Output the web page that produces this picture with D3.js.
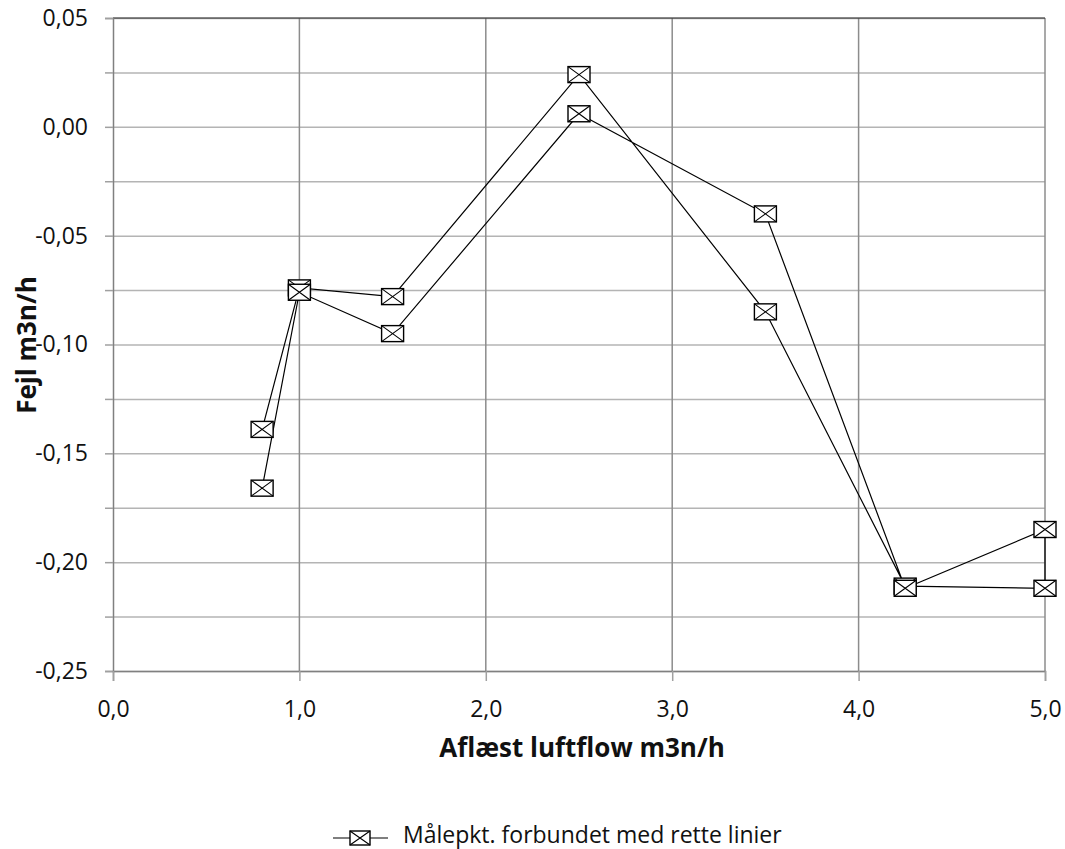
<!DOCTYPE html>
<html>
<head>
<meta charset="utf-8">
<script src="https://cdn.jsdelivr.net/npm/d3@7"></script>
<style>
  html, body { margin: 0; padding: 0; background: #fff; }
  svg { display: block; font-family: "Open Sans", "Noto Sans", sans-serif; }
</style>
</head>
<body>
<svg id="chart" width="1065" height="849"></svg>
<script>
// Data: one measurement path (out along upper branch, back along lower branch)
const flow  = [0.8, 1.0, 1.5, 2.5, 3.5, 4.25, 5.0, 5.0, 4.25, 3.5, 2.5, 1.5, 1.0, 0.8];
const error = [-0.139, -0.074, -0.078, 0.024, -0.085, -0.211, -0.212, -0.185, -0.212, -0.040, 0.006, -0.095, -0.076, -0.166];
const xTicks = [0, 1, 2, 3, 4, 5];
const yTicks = [-0.25, -0.20, -0.15, -0.10, -0.05, 0.00, 0.05];
const yGrid = [-0.225, -0.175, -0.125, -0.075, -0.025, 0.025];
const xTitle = "Aflæst luftflow m3n/h";
const yTitle = "Fejl m3n/h";
const legendLabel = "Målepkt. forbundet med rette linier";

const points = flow.map((f, i) => ({ x: f, y: error[i] }));

const svg = d3.select("#chart");
const L = 113, R = 1045, T = 18, B = 671;

const x = d3.scaleLinear().domain([0, 5]).range([L, R]);
const y = d3.scaleLinear().domain([-0.25, 0.05]).range([B, T]);

// horizontal grid (all 0.025 steps)
const g = svg.append("g");
g.selectAll("line.hg").data(yGrid.concat(yTicks)).join("line")
  .attr("x1", L).attr("x2", R)
  .attr("y1", d => y(d) + 0.5).attr("y2", d => y(d) + 0.5)
  .attr("stroke", "#b4b4b4").attr("stroke-width", 1.5);
// vertical grid
g.selectAll("line.vg").data(xTicks.slice(1)).join("line")
  .attr("x1", d => x(d)).attr("x2", d => x(d))
  .attr("y1", T).attr("y2", B)
  .attr("stroke", "#8c8c8c").attr("stroke-width", 1.5);

// top border
svg.append("line").attr("x1", L).attr("x2", R).attr("y1", T).attr("y2", T)
  .attr("stroke", "#222").attr("stroke-width", 1.2);

// y axis
const yAxis = d3.axisLeft(y).tickValues(yTicks.concat(yGrid)).tickSize(8)
  .tickFormat(d => yTicks.includes(d) ? d3.format(".2f")(d).replace(".", ",").replace("−", "-") : "");
const ya = svg.append("g").attr("transform", `translate(${L},0)`).call(yAxis);
ya.select(".domain").attr("stroke", "#808080").attr("stroke-width", 1.5);
ya.selectAll(".tick line").attr("stroke", "#a0a0a0").attr("stroke-width", 1.5);
ya.selectAll(".tick text").attr("x", -25).attr("font-size", 23).attr("fill", "#111")
  .attr("font-family", "Open Sans");

// x axis
const xAxis = d3.axisBottom(x).tickValues(xTicks).tickSize(10)
  .tickFormat(d => d3.format(".1f")(d).replace(".", ","));
const xa = svg.append("g").attr("transform", `translate(0,${B})`).call(xAxis);
xa.select(".domain").attr("stroke", "#808080").attr("stroke-width", 1.5);
xa.selectAll(".tick line").attr("stroke", "#a0a0a0").attr("stroke-width", 1.5);
xa.selectAll(".tick text").attr("y", 30).attr("font-size", 23).attr("fill", "#111")
  .attr("font-family", "Open Sans");

// axis titles
svg.append("text").attr("x", 582).attr("y", 757).attr("text-anchor", "middle")
  .attr("font-size", 26).attr("font-weight", "bold").attr("fill", "#111").text(xTitle);
svg.append("text").attr("transform", `translate(36,345) rotate(-90)`)
  .attr("text-anchor", "middle").attr("font-size", 26).attr("font-weight", "bold")
  .attr("fill", "#111").text(yTitle);

// data line
const line = d3.line().x(d => x(d.x)).y(d => y(d.y));
svg.append("path").datum(points).attr("d", line)
  .attr("fill", "none").attr("stroke", "#000").attr("stroke-width", 1.2);

// markers
function marker(sel, w, h) {
  sel.append("rect").attr("x", -w / 2).attr("y", -h / 2).attr("width", w).attr("height", h)
    .attr("fill", "#fff").attr("stroke", "#000").attr("stroke-width", 1.4);
  sel.append("path").attr("d", `M${-w/2},${-h/2}L${w/2},${h/2}M${-w/2},${h/2}L${w/2},${-h/2}`)
    .attr("stroke", "#000").attr("stroke-width", 1.1);
}
svg.append("g").selectAll("g").data(points).join("g")
  .attr("transform", d => `translate(${x(d.x)},${y(d.y)})`)
  .each(function () { marker(d3.select(this), 22, 16); });

// legend
const lg = svg.append("g").attr("transform", "translate(0,838)");
lg.append("line").attr("x1", 333).attr("x2", 388).attr("y1", 0).attr("y2", 0)
  .attr("stroke", "#000").attr("stroke-width", 1.2);
marker(lg.append("g").attr("transform", "translate(360,0)"), 20, 14);
lg.append("text").attr("x", 403).attr("y", 5).attr("font-size", 23).attr("fill", "#111").text(legendLabel);
</script>
</body>
</html>
